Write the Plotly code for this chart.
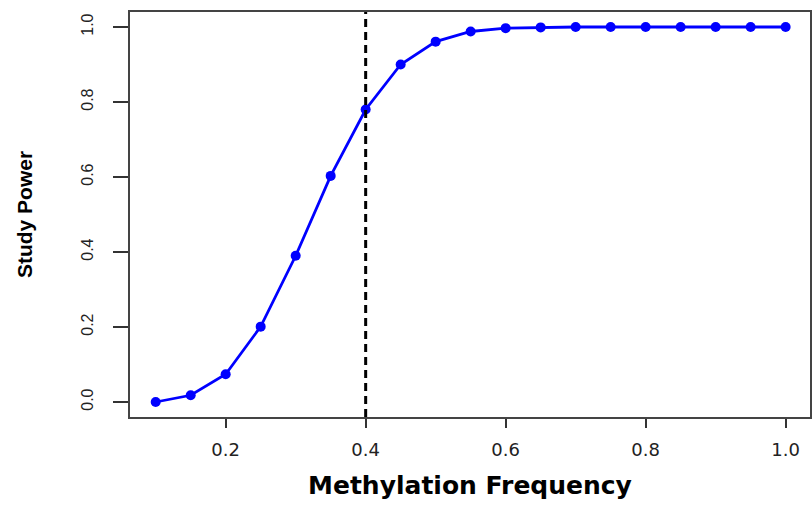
import plotly.graph_objects as go

methylation_freq = [0.10, 0.15, 0.20, 0.25, 0.30, 0.35, 0.40, 0.45, 0.50, 0.55,
                    0.60, 0.65, 0.70, 0.75, 0.80, 0.85, 0.90, 0.95, 1.00]
study_power = [0.000, 0.018, 0.074, 0.201, 0.390, 0.603, 0.780, 0.900, 0.961, 0.988,
               0.997, 0.999, 1.000, 1.000, 1.000, 1.000, 1.000, 1.000, 1.000]
threshold_x = 0.4
x_ticks = [0.2, 0.4, 0.6, 0.8, 1.0]
x_tick_labels = ["0.2", "0.4", "0.6", "0.8", "1.0"]
y_ticks = [0.0, 0.2, 0.4, 0.6, 0.8, 1.0]
y_tick_labels = ["0.0", "0.2", "0.4", "0.6", "0.8", "1.0"]

fig = go.Figure()
fig.add_trace(go.Scatter(
    x=methylation_freq, y=study_power, mode="lines+markers",
    line=dict(color="#0000ff", width=2.8),
    marker=dict(color="#0000ff", size=10),
    showlegend=False,
))
fig.add_shape(type="line", x0=threshold_x, x1=threshold_x, y0=0, y1=1,
              xref="x", yref="paper",
              line=dict(color="black", width=3, dash="8px,5px"))

font = "Liberation Sans, Arial, sans-serif"
wide = "DejaVu Sans, sans-serif"
fig.update_layout(
    width=812, height=505,
    margin=dict(l=130, r=0, t=12, b=88),
    plot_bgcolor="white", paper_bgcolor="white",
    font=dict(family=font, color="#222222"),
    xaxis=dict(
        range=[0.0633, 1.0348], tickvals=x_ticks, ticktext=x_tick_labels,
        showgrid=False, zeroline=False, showline=True, mirror=True,
        linecolor="#444444", linewidth=2,
        ticks="outside", ticklen=9, tickwidth=1.5, tickcolor="#333333",
        tickfont=dict(size=18, family=wide, color="#222222"),
        ticklabelstandoff=6,
        title=dict(text="<b>Methylation Frequency</b>",
                   font=dict(size=25, family=wide, color="black"), standoff=18),
    ),
    yaxis=dict(
        range=[-0.04, 1.04], tickvals=y_ticks, ticktext=y_tick_labels,
        showgrid=False, zeroline=False, showline=True, mirror=True,
        linecolor="#444444", linewidth=2,
        ticks="outside", ticklen=15, tickwidth=1.5, tickcolor="#333333",
        tickfont=dict(size=16, family=font, color="#222222"),
        tickangle=-90, ticklabelstandoff=14,
        title=dict(text="<b>Study Power</b>",
                   font=dict(size=21, family=font, color="black"), standoff=40),
    ),
)

fig.write_html("out.html")
